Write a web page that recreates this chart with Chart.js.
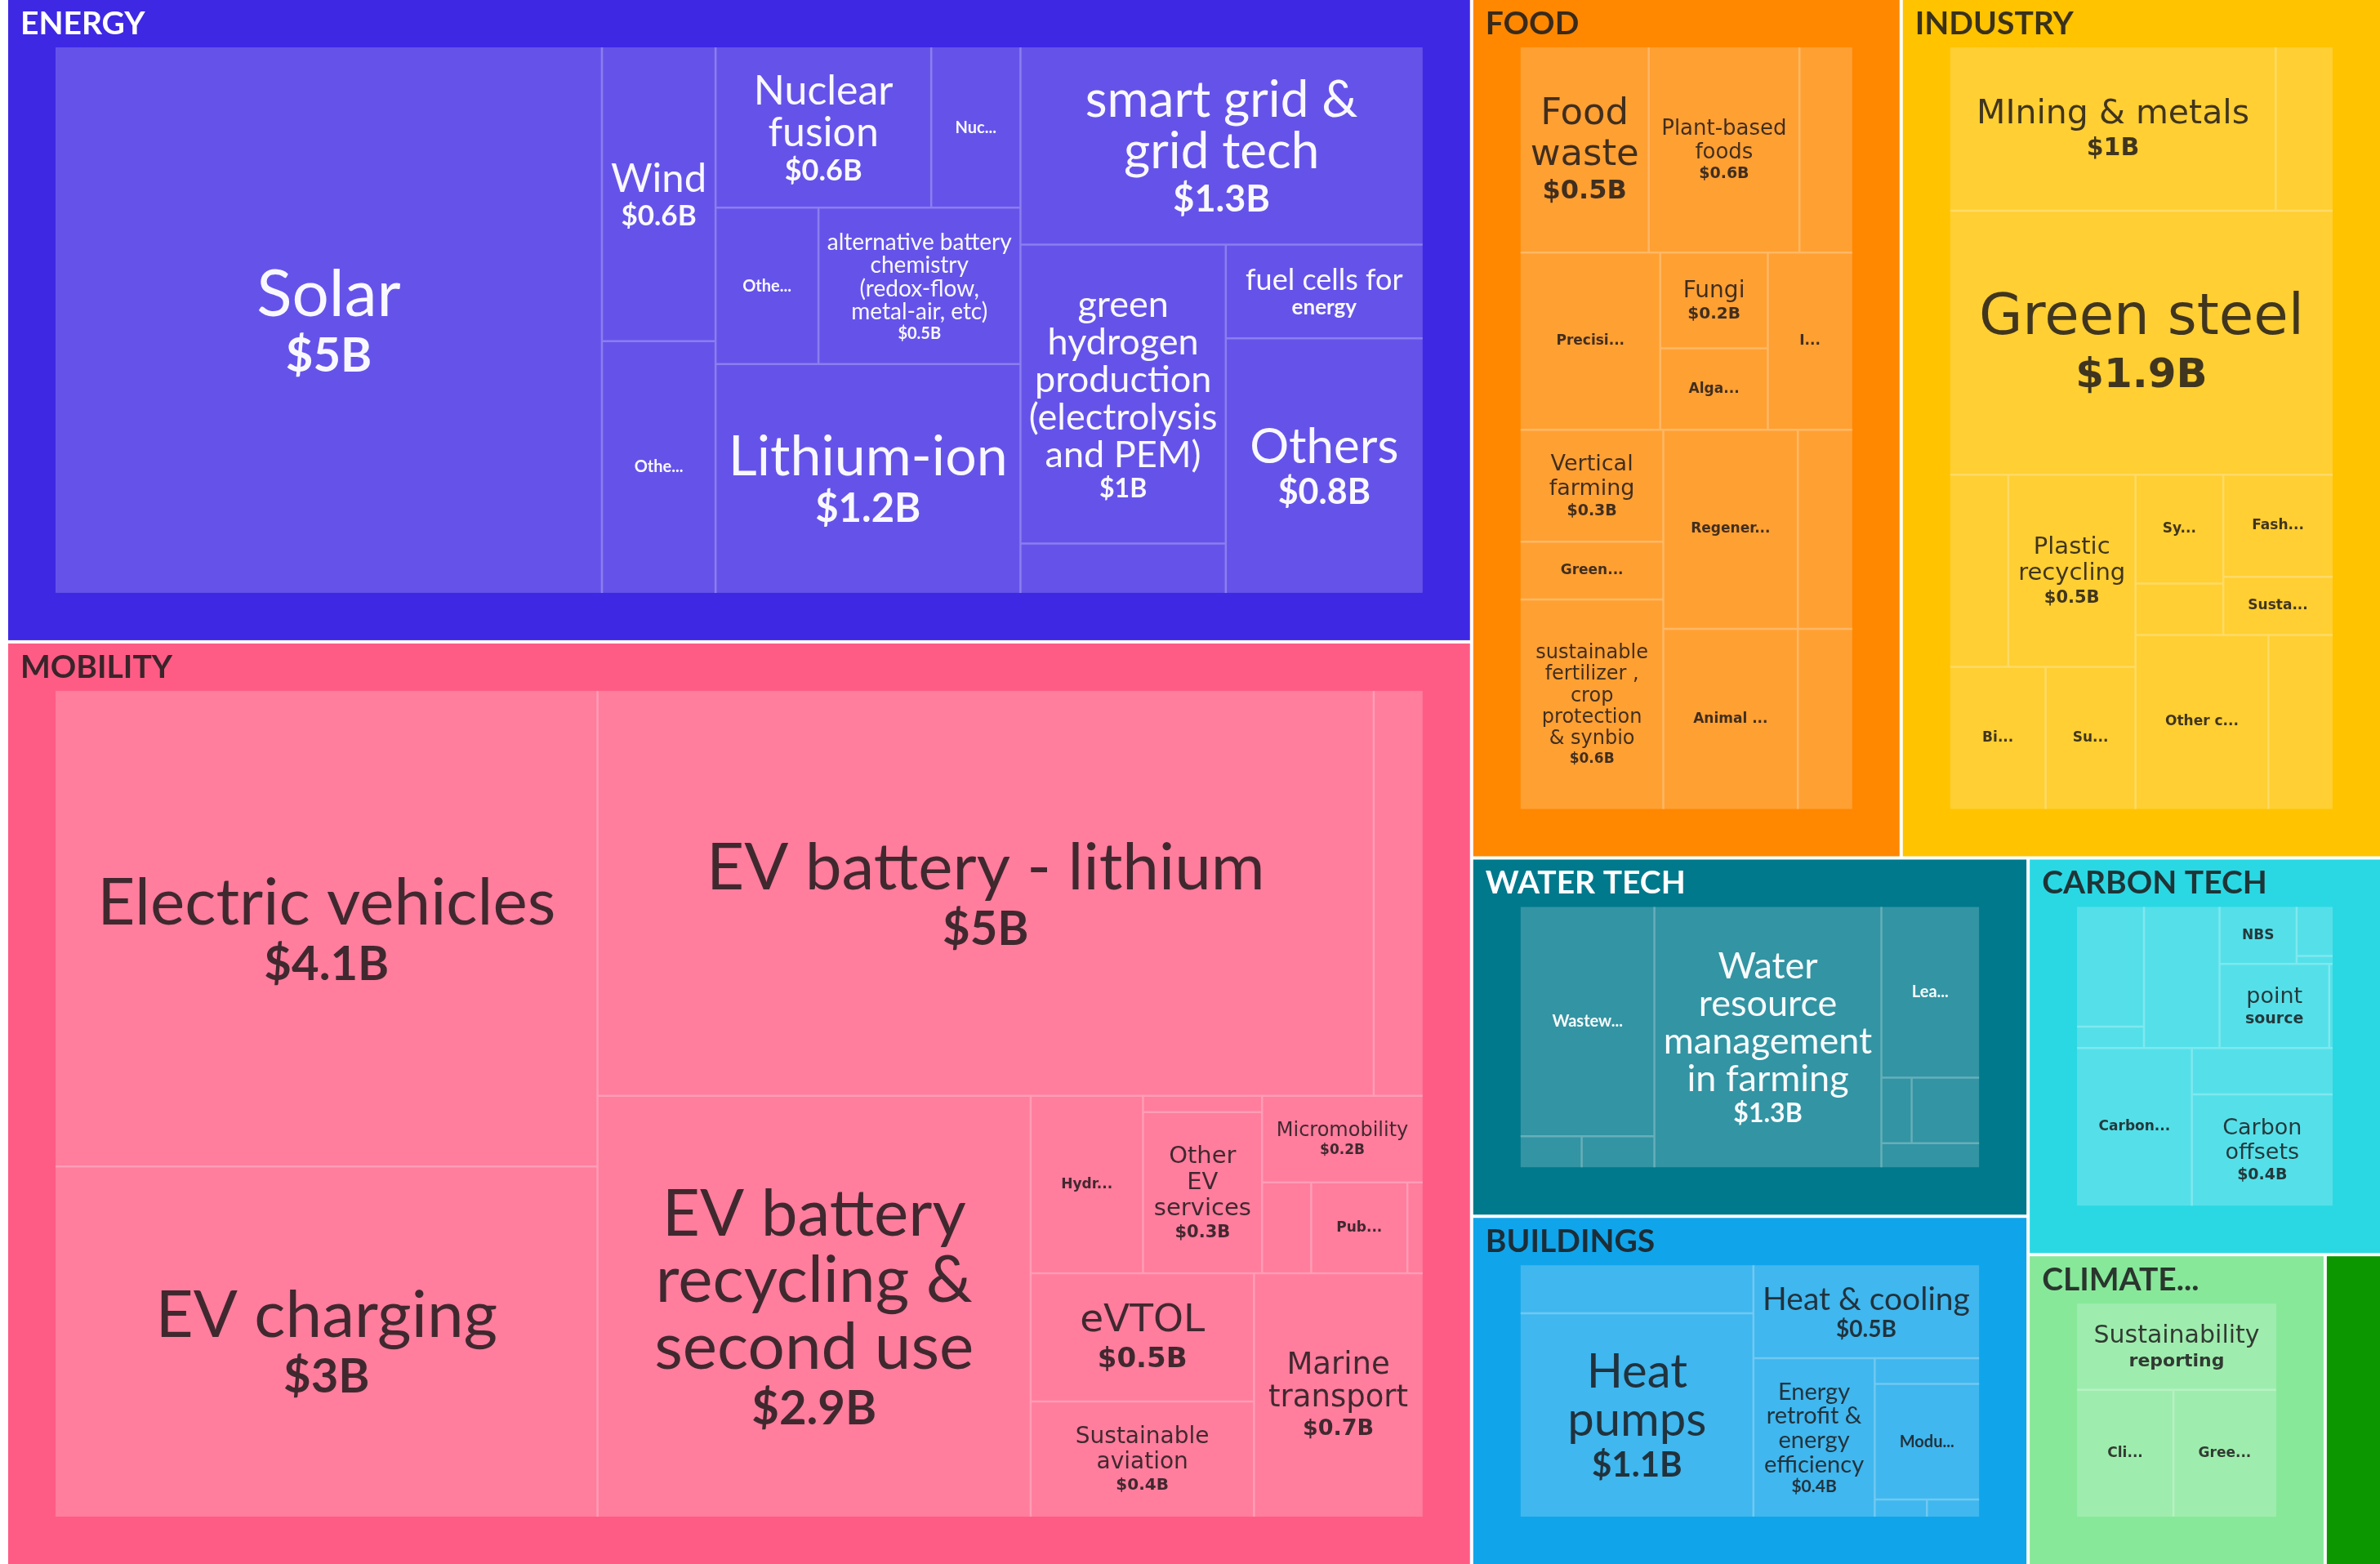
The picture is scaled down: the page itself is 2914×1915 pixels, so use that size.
<!DOCTYPE html>
<html>
<head>
<meta charset="utf-8">
<script src="https://cdn.jsdelivr.net/npm/chart.js@4.4.1/dist/chart.umd.min.js"></script>
<style>
html,body{margin:0;padding:0;background:#ffffff;}
#wrap{width:2914px;height:1915px;position:relative;overflow:hidden;}
canvas{display:block;}
</style>
</head>
<body>
<div id="wrap"><canvas id="c" width="2914" height="1915"></canvas></div>
<script>
// ---------------- DATA ----------------
const sectorNames = ['ENERGY','MOBILITY','FOOD','INDUSTRY','WATER TECH','BUILDINGS','CARBON TECH','CLIMATE...',''];

const energyNames = ['Solar','Wind','Othe...','Nuclear fusion','Nuc...','Othe...',
  'alternative battery chemistry (redox-flow, metal-air, etc)','Lithium-ion','smart grid & grid tech',
  'green hydrogen production (electrolysis and PEM)','','fuel cells for|energy','Others'];
const energyValues = [5.0,0.56,0.48,0.58,0.24,0.27,0.53,1.17,1.33,1.03,0.17,0.31,0.84];
const energyTree = [[0,1,2],[3,4],[5,6,7],8,[[9,10],[11,12]]];

const mobilityNames = ['Electric vehicles','EV charging','EV battery - lithium','','EV battery recycling & second use',
  'Hydr...','','Other EV services','Micromobility','','Pub...','','eVTOL','Sustainable aviation','Marine transport'];
const mobilityValues = [4.1,3.02,5.0,0.315,2.9,0.317,0.031,0.305,0.221,0.071,0.139,0.022,0.456,0.409,0.653];
const mobilityTree = [0,1,['v',['h',2,3],[4,5,[6,7],[8,9,10,11],12,13,14]]];

const foodNames = ['Food waste','Plant-based foods','','Precisi...','Fungi','Alga...','I...','Vertical farming','Green...',
  'sustainable fertilizer , crop protection & synbio','Regener...','','Animal ...',''];
const foodValues = [0.51,0.60,0.21,0.48,0.20,0.17,0.29,0.31,0.16,0.58,0.52,0.21,0.47,0.19];
const foodTree = [['h',0,1,2],['h',3,[4,5],6],['h',[7,8,9],['v',['h',10,11],['h',12,13]]]];

const industryNames = ['MIning & metals','','Green steel','','Plastic recycling','Bi...','Su...','Sy...','','Fash...','Susta...','Other c...',''];
const industryValues = [1.0,0.175,1.9,0.21,0.46,0.255,0.24,0.18,0.085,0.21,0.12,0.435,0.21];
const industryTree = [[0,1],2,[['v',['h',3,4],['h',5,6]],['v',['h',[7,8],[9,10]],['h',11,12]]]];

const waterNames = ['Wastew...','','','Water resource management in farming','Lea...','','',''];
const waterValues = [0.68,0.042,0.05,1.31,0.37,0.044,0.098,0.052];
const waterTree = [[0,['h',1,2]],3,['v',4,['h',5,6],7]];

const buildingsNames = ['','Heat pumps','Heat & cooling','Energy retrofit & energy efficiency','','Modu...','',''];
const buildingsValues = [0.25,1.06,0.47,0.43,0.06,0.27,0.02,0.02];
const buildingsTree = [['v',0,1],['v',2,['h',3,['v',4,5,['h',6,7]]]]];

const carbonNames = ['','','','|NBS','','','point|source','','Carbon...','','Carbon offsets'];
const carbonValues = [0.195,0.035,0.26,0.107,0.043,0.007,0.225,0.007,0.441,0.159,0.382];
const carbonTree = ['v',['h',['v',0,1],2,['v',['h',3,['v',4,5]],['h',6,7]]],['h',8,['v',9,10]]];

const climateNames = ['Sustainability|reporting','Cli...','Gree...'];
const climateValues = [0.496,0.353,0.377];
const climateTree = ['v',0,['h',1,2]];

const otherNames = [''];
const otherValues = [0.233];
const otherTree = [0];

const sectorLeafNames = [energyNames,mobilityNames,foodNames,industryNames,waterNames,buildingsNames,carbonNames,climateNames,otherNames];
const sectorLeafValues = [energyValues,mobilityValues,foodValues,industryValues,waterValues,buildingsValues,carbonValues,climateValues,otherValues];
const sectorTrees = [energyTree,mobilityTree,foodTree,industryTree,waterTree,buildingsTree,carbonTree,climateTree,otherTree];

// ---------------- STYLE ----------------
const sectorColors = ['#3e28e4','#ff5c85','#ff8800','#ffc300','#00798c','#10a5ea','#2ad8e4','#87e89a','#0c9600'];
const sectorLightText = [true,false,false,false,true,false,false,false,false];
const sectorFonts = ['Lato','mixed','DejaVu Sans','DejaVu Sans','Lato','Lato','DejaVu Sans','DejaVu Sans','Lato'];
const fontMetrics = {
  'Lato':        {line: 1.02, vline: 1.15, fillH: 0.74, fillW: 0.92, area: 0.22},
  'DejaVu Sans': {line: 1.10, vline: 1.25, fillH: 0.62, fillW: 0.85, area: 0.23}
};
const W = 2914, H = 1915;
const ROOT = {x0:10, y0:0, x1:2914, y1:1915};
const GAP = 4, PAD = 58;

// ---------------- LAYOUT (squarified treemap, computed from values) ----------------
function buildNode(spec, names, values) {
  if (typeof spec === 'number') return {leaf: spec, name: names[spec], value: values[spec]};
  let hint = null, items = spec;
  if (typeof spec[0] === 'string') { hint = spec[0]; items = spec.slice(1); }
  const children = items.map(s => buildNode(s, names, values));
  return {hint, children, value: children.reduce((a, c) => a + c.value, 0)};
}
function dice(nodes, x0, y0, x1, y1) {
  const tot = nodes.reduce((a, c) => a + c.value, 0);
  const k = tot ? (x1 - x0) / tot : 0;
  let x = x0;
  for (const n of nodes) { n.x0 = x; n.y0 = y0; x += n.value * k; n.x1 = x; n.y1 = y1; }
}
function slice(nodes, x0, y0, x1, y1) {
  const tot = nodes.reduce((a, c) => a + c.value, 0);
  const k = tot ? (y1 - y0) / tot : 0;
  let y = y0;
  for (const n of nodes) { n.x0 = x0; n.y0 = y; y += n.value * k; n.x1 = x1; n.y1 = y; }
}
function squarify(nodes, x0, y0, x1, y1) {
  const ratio = 1;
  let value = nodes.reduce((a, c) => a + c.value, 0);
  let i0 = 0, i1 = 0; const n = nodes.length;
  while (i0 < n) {
    const dx = x1 - x0, dy = y1 - y0;
    let sumValue;
    do sumValue = nodes[i1++].value; while (!sumValue && i1 < n);
    let minValue = sumValue, maxValue = sumValue;
    const alpha = Math.max(dy / dx, dx / dy) / (value * ratio);
    let beta = sumValue * sumValue * alpha;
    let minRatio = Math.max(maxValue / beta, beta / minValue);
    for (; i1 < n; ++i1) {
      const nv = nodes[i1].value;
      sumValue += nv;
      if (nv < minValue) minValue = nv;
      if (nv > maxValue) maxValue = nv;
      beta = sumValue * sumValue * alpha;
      const newRatio = Math.max(maxValue / beta, beta / minValue);
      if (newRatio > minRatio) { sumValue -= nv; break; }
      minRatio = newRatio;
    }
    const row = nodes.slice(i0, i1);
    if (dx < dy) { const ny = value ? y0 + dy * sumValue / value : y1; dice(row, x0, y0, x1, ny); y0 = ny; }
    else { const nx = value ? x0 + dx * sumValue / value : x1; slice(row, x0, y0, nx, y1); x0 = nx; }
    value -= sumValue; i0 = i1;
  }
}
function tileNode(node, x0, y0, x1, y1) {
  node.x0 = x0; node.y0 = y0; node.x1 = x1; node.y1 = y1;
  if (!node.children) return;
  if (node.hint === 'h') dice(node.children, x0, y0, x1, y1);
  else if (node.hint === 'v') slice(node.children, x0, y0, x1, y1);
  else squarify(node.children, x0, y0, x1, y1);
  for (const c of node.children) tileNode(c, c.x0, c.y0, c.x1, c.y1);
}
function collectLeaves(node, out) {
  if (!node.children) { out.push(node); return out; }
  for (const c of node.children) collectLeaves(c, out);
  return out;
}

const sectorNodes = sectorNames.map((nm, i) => {
  const tree = buildNode(sectorTrees[i], sectorLeafNames[i], sectorLeafValues[i]);
  return {idx: i, name: nm, tree, value: tree.value};
});
squarify(sectorNodes, ROOT.x0 - GAP / 2, ROOT.y0 - GAP / 2, ROOT.x1 + GAP / 2, ROOT.y1 + GAP / 2);
const allLeaves = [];
for (const s of sectorNodes) {
  s.ox0 = s.x0 + GAP / 2; s.oy0 = s.y0 + GAP / 2; s.ox1 = s.x1 - GAP / 2; s.oy1 = s.y1 - GAP / 2;
  s.ix0 = s.ox0 + PAD; s.iy0 = s.oy0 + PAD; s.ix1 = s.ox1 - PAD; s.iy1 = s.oy1 - PAD;
  s.leaves = [];
  if (s.ix1 - s.ix0 > 1 && s.iy1 - s.iy0 > 1) {
    tileNode(s.tree, s.ix0, s.iy0, s.ix1, s.iy1);
    s.leaves = collectLeaves(s.tree, []);
    s.leaves.forEach(l => allLeaves.push(l));
  }
}

// ---------------- DRAWING ----------------
function mix(hex, a) {
  const n = parseInt(hex.slice(1), 16);
  const r = (n >> 16) & 255, g = (n >> 8) & 255, b = n & 255;
  return `rgb(${Math.round(r + (255 - r) * a)},${Math.round(g + (255 - g) * a)},${Math.round(b + (255 - b) * a)})`;
}
function fmtValue(v) {
  const r = Math.round(v * 10) / 10;
  return '$' + (Math.abs(r - Math.round(r)) < 1e-9 ? Math.round(r).toString() : r.toFixed(1)) + 'B';
}
function wrapWords(ctx, text, maxW) {
  const words = text.split(' ').filter(w => w.length);
  const lines = []; let cur = '';
  for (const w of words) {
    if (ctx.measureText(w).width > maxW) return null;
    const t = cur ? cur + ' ' + w : w;
    if (!cur || ctx.measureText(t).width <= maxW) cur = t;
    else { lines.push(cur); cur = w; }
  }
  if (cur) lines.push(cur);
  return lines;
}
function fitLabel(ctx, main, secondary, w, h, fam) {
  const m = fontMetrics[fam];
  const maxF = Math.min(80, m.area * Math.sqrt(w * h));
  const aw = m.fillW * w, ah = m.fillH * h;
  for (let f = Math.floor(maxF); f >= 8; f--) {
    ctx.font = `${f}px "${fam}"`;
    const lines = wrapWords(ctx, main, aw);
    if (!lines) continue;
    const vf = Math.round(f * 0.72);
    ctx.font = `bold ${vf}px "${fam}"`;
    if (ctx.measureText(secondary).width > aw) continue;
    const total = lines.length * f * m.line + vf * m.vline;
    if (total > ah) continue;
    return {f, vf, lines, total, fam, m};
  }
  return null;
}
function drawLeafLabel(ctx, leaf, r, sIdx) {
  const name = leaf.name;
  if (!name) return;
  const w = r.x1 - r.x0, h = r.y1 - r.y0, cx = (r.x0 + r.x1) / 2, cy = (r.y0 + r.y1) / 2;
  ctx.fillStyle = sectorLightText[sIdx] ? 'rgba(255,255,255,0.96)' : 'rgba(28,24,26,0.84)';
  ctx.textAlign = 'center'; ctx.textBaseline = 'middle';
  let main = name, sub = null;
  const bar = name.indexOf('|');
  if (bar >= 0) { main = name.slice(0, bar); sub = name.slice(bar + 1); }
  const famBase = sectorFonts[sIdx];
  const compactFam = famBase === 'Lato' ? 'Lato' : 'DejaVu Sans';
  if ((sub === null && name.endsWith('...')) || main === '') {
    const txt = sub === null ? name : sub;
    const size = compactFam === 'Lato' ? 20 : 17;
    ctx.font = `bold ${size}px "${compactFam}"`;
    ctx.fillText(txt, cx, cy);
    return;
  }
  const secondary = sub !== null ? sub : fmtValue(leaf.value);
  let fit = fitLabel(ctx, main, secondary, w, h, famBase === 'mixed' ? 'Lato' : famBase);
  if (famBase === 'mixed' && fit && fit.f < 50) fit = fitLabel(ctx, main, secondary, w, h, 'DejaVu Sans');
  if (!fit) return;
  const m = fit.m;
  let y = cy - fit.total / 2;
  ctx.font = `${fit.f}px "${fit.fam}"`;
  for (const ln of fit.lines) { ctx.fillText(ln, cx, y + fit.f * m.line * 0.53); y += fit.f * m.line; }
  ctx.font = `bold ${fit.vf}px "${fit.fam}"`;
  ctx.fillText(secondary, cx, y + fit.vf * m.vline * 0.55);
}

const treemapPlugin = {
  id: 'treemapCells',
  afterDatasetsDraw(chart) {
    const ctx = chart.ctx, xs = chart.scales.x, ys = chart.scales.y;
    const X = v => xs.getPixelForValue(v), Y = v => ys.getPixelForValue(v);
    ctx.save();
    for (const s of sectorNodes) {
      const base = sectorColors[s.idx];
      const o = {x0: X(s.ox0), y0: Y(s.oy0), x1: X(s.ox1), y1: Y(s.oy1)};
      ctx.fillStyle = base;
      ctx.fillRect(o.x0, o.y0, o.x1 - o.x0, o.y1 - o.y0);
      if (s.name) {
        ctx.font = 'bold 39px "Lato"';
        ctx.textAlign = 'left'; ctx.textBaseline = 'alphabetic';
        ctx.fillStyle = sectorLightText[s.idx] ? '#ffffff' : 'rgba(30,28,30,0.88)';
        if (ctx.measureText(s.name).width <= (o.x1 - o.x0) - 28) ctx.fillText(s.name, o.x0 + 15, o.y0 + 42);
      }
      if (!s.leaves.length) continue;
      const inn = {x0: X(s.ix0), y0: Y(s.iy0), x1: X(s.ix1), y1: Y(s.iy1)};
      const cellColor = mix(base, 0.2), lineColor = mix(base, 0.4);
      const rects = s.leaves.map(l => ({x0: X(l.x0), y0: Y(l.y0), x1: X(l.x1), y1: Y(l.y1)}));
      ctx.fillStyle = cellColor;
      for (const r of rects) ctx.fillRect(r.x0, r.y0, r.x1 - r.x0, r.y1 - r.y0);
      ctx.strokeStyle = lineColor; ctx.lineWidth = 2.5; ctx.lineCap = 'butt';
      ctx.beginPath();
      for (const r of rects) {
        if (r.x0 > inn.x0 + 0.5) { ctx.moveTo(r.x0, r.y0); ctx.lineTo(r.x0, r.y1); }
        if (r.x1 < inn.x1 - 0.5) { ctx.moveTo(r.x1, r.y0); ctx.lineTo(r.x1, r.y1); }
        if (r.y0 > inn.y0 + 0.5) { ctx.moveTo(r.x0, r.y0); ctx.lineTo(r.x1, r.y0); }
        if (r.y1 < inn.y1 - 0.5) { ctx.moveTo(r.x0, r.y1); ctx.lineTo(r.x1, r.y1); }
      }
      ctx.stroke();
      s.leaves.forEach((l, i) => drawLeafLabel(ctx, l, rects[i], s.idx));
    }
    ctx.restore();
  }
};

new Chart(document.getElementById('c'), {
  type: 'scatter',
  data: {
    datasets: [{
      label: 'cells',
      data: allLeaves.map(l => ({x: (l.x0 + l.x1) / 2, y: (l.y0 + l.y1) / 2})),
      pointRadius: 0, pointHoverRadius: 0, showLine: false
    }]
  },
  options: {
    responsive: false,
    devicePixelRatio: 1,
    animation: false,
    events: [],
    layout: {padding: 0},
    plugins: {legend: {display: false}, tooltip: {enabled: false}, title: {display: false}},
    scales: {
      x: {type: 'linear', min: 0, max: W, display: false},
      y: {type: 'linear', min: 0, max: H, reverse: true, display: false}
    }
  },
  plugins: [treemapPlugin]
});
</script>
</body>
</html>
